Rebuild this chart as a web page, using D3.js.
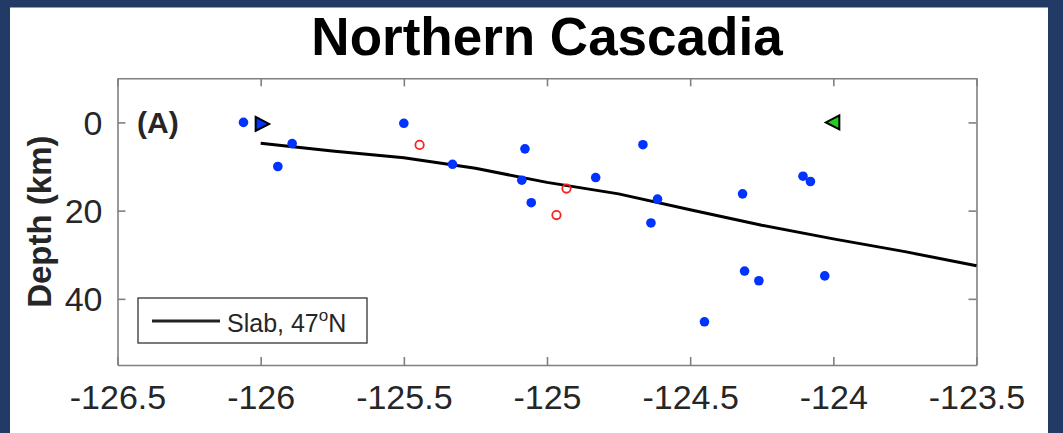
<!DOCTYPE html>
<html><head><meta charset="utf-8">
<script src="https://cdn.jsdelivr.net/npm/d3@7"></script>
<style>body{margin:0;background:#213a66;}svg{display:block;}</style>
</head><body>
<svg id="c" width="1063" height="433"></svg>
<script>
const title = "Northern Cascadia";
const xTicks = [-126.5, -126, -125.5, -125, -124.5, -124, -123.5];
const yTicks = [0, 20, 40];
const xDomain = [-126.5, -123.5];
const yDomain = [-10, 55];
const blueLon = [-126.06, -125.89, -125.94, -125.50, -125.33, -125.077, -125.088, -125.055, -124.83, -124.665, -124.614, -124.637, -124.317, -124.106, -124.08, -124.31, -124.26, -124.03, -124.45];
const blueDepth = [0.0, 4.8, 10.0, 0.2, 9.5, 6.0, 13.1, 18.2, 12.5, 5.05, 17.4, 22.8, 16.2, 12.2, 13.4, 33.7, 35.9, 34.8, 45.2];
const redLon = [-125.445, -124.932, -124.967];
const redDepth = [5.1, 15.0, 21.0];
const slabLon = [-126.0, -125.75, -125.5, -125.25, -125.0, -124.75, -124.5, -124.25, -124.0, -123.75, -123.5];
const slabDepth = [4.7, 6.5, 8.0, 10.4, 13.6, 16.2, 19.8, 23.3, 26.4, 29.3, 32.5];
const westStation = {lon: -126, depth: 0};
const eastStation = {lon: -124, depth: 0};
const legendLabel = "Slab, 47";
const panelLabel = "(A)";

const svg = d3.select("#c");
svg.append("rect").attr("x",0).attr("y",0).attr("width",1063).attr("height",433).attr("fill","#213a66");
svg.append("rect").attr("x",10).attr("y",7.5).attr("width",1038).attr("height",430).attr("fill","#fff");

const L=117.5, R=976.5, T=78.3, B=365;
const x = d3.scaleLinear().domain(xDomain).range([L,R]);
const y = d3.scaleLinear().domain(yDomain).range([T,B]);
const font = "'Liberation Sans', Arial, Helvetica, sans-serif";
const axCol = "#808080", txtCol = "#262626";

svg.append("text").attr("x",547).attr("y",55).attr("text-anchor","middle")
  .attr("font-family",font).attr("font-weight","bold").attr("font-size",53).attr("fill","#000").text(title);

// axes
const gBottom = svg.append("g").attr("transform",`translate(0,${B})`)
  .call(d3.axisBottom(x).tickValues(xTicks).tickSizeInner(-8).tickSizeOuter(0).tickPadding(20).tickFormat(d=>String(d)));
const gTop = svg.append("g").attr("transform",`translate(0,${T})`)
  .call(d3.axisTop(x).tickValues(xTicks).tickSizeInner(-8).tickSizeOuter(0).tickFormat(""));
const gLeft = svg.append("g").attr("transform",`translate(${L},0)`)
  .call(d3.axisLeft(y).tickValues(yTicks).tickSizeInner(-8).tickSizeOuter(0).tickPadding(15).tickFormat(d=>String(d)));
const gRight = svg.append("g").attr("transform",`translate(${R},0)`)
  .call(d3.axisRight(y).tickValues(yTicks).tickSizeInner(-8).tickSizeOuter(0).tickFormat(""));
[gBottom,gTop,gLeft,gRight].forEach(g=>{
  g.select(".domain").attr("stroke",axCol).attr("stroke-width",1.6);
  g.selectAll(".tick line").attr("stroke",axCol).attr("stroke-width",1.6);
  g.selectAll(".tick text").attr("font-family",font).attr("font-size",34).attr("fill",txtCol);
});
gBottom.selectAll(".tick text").attr("dy","0.71em");
gLeft.selectAll(".tick text").attr("dy","0.35em");

svg.append("text").attr("transform",`translate(51,${(T+B)/2}) rotate(-90)`).attr("text-anchor","middle")
  .attr("font-family",font).attr("font-weight","bold").attr("font-size",33).attr("fill",txtCol).text("Depth (km)");

// slab line
const line = d3.line().x(d=>x(d[0])).y(d=>y(d[1]));
svg.append("path").datum(slabLon.map((v,i)=>[v,slabDepth[i]])).attr("d",line)
  .attr("fill","none").attr("stroke","#000").attr("stroke-width",3);

// blue points
svg.append("g").selectAll("circle").data(blueLon.map((v,i)=>[v,blueDepth[i]])).join("circle")
  .attr("cx",d=>x(d[0])).attr("cy",d=>y(d[1])).attr("r",4.8).attr("fill","#0033ff");
// red open
svg.append("g").selectAll("circle").data(redLon.map((v,i)=>[v,redDepth[i]])).join("circle")
  .attr("cx",d=>x(d[0])).attr("cy",d=>y(d[1])).attr("r",4.2).attr("fill","none").attr("stroke","#ff2020").attr("stroke-width",1.8);

// triangles
const wx=x(westStation.lon)+1, wy=y(westStation.depth)+1.5;
svg.append("path").attr("d",`M${wx-6},${wy-7}L${wx+7.5},${wy}L${wx-6},${wy+7}Z`)
  .attr("fill","#0033ff").attr("stroke","#000").attr("stroke-width",2);
const ex=x(eastStation.lon), ey=y(eastStation.depth);
svg.append("path").attr("d",`M${ex+6},${ey-7}L${ex-7.5},${ey}L${ex+6},${ey+7}Z`)
  .attr("fill","#22cc22").attr("stroke","#000").attr("stroke-width",2);

svg.append("text").attr("x",137).attr("y",y(0)).attr("dy","0.35em")
  .attr("font-family",font).attr("font-weight","bold").attr("font-size",30).attr("fill",txtCol).text(panelLabel);

// legend
svg.append("rect").attr("x",138).attr("y",298).attr("width",229).attr("height",45)
  .attr("fill","#fff").attr("stroke","#333").attr("stroke-width",1.3);
svg.append("line").attr("x1",152).attr("x2",220).attr("y1",321).attr("y2",321).attr("stroke","#222").attr("stroke-width",2.8);
const lt = svg.append("text").attr("x",227).attr("y",332).attr("font-family",font).attr("font-size",25).attr("fill",txtCol);
lt.append("tspan").text(legendLabel);
lt.append("tspan").attr("font-size",17).attr("dy",-11).text("o");
lt.append("tspan").attr("dy",11).text("N");
</script>
</body></html>
